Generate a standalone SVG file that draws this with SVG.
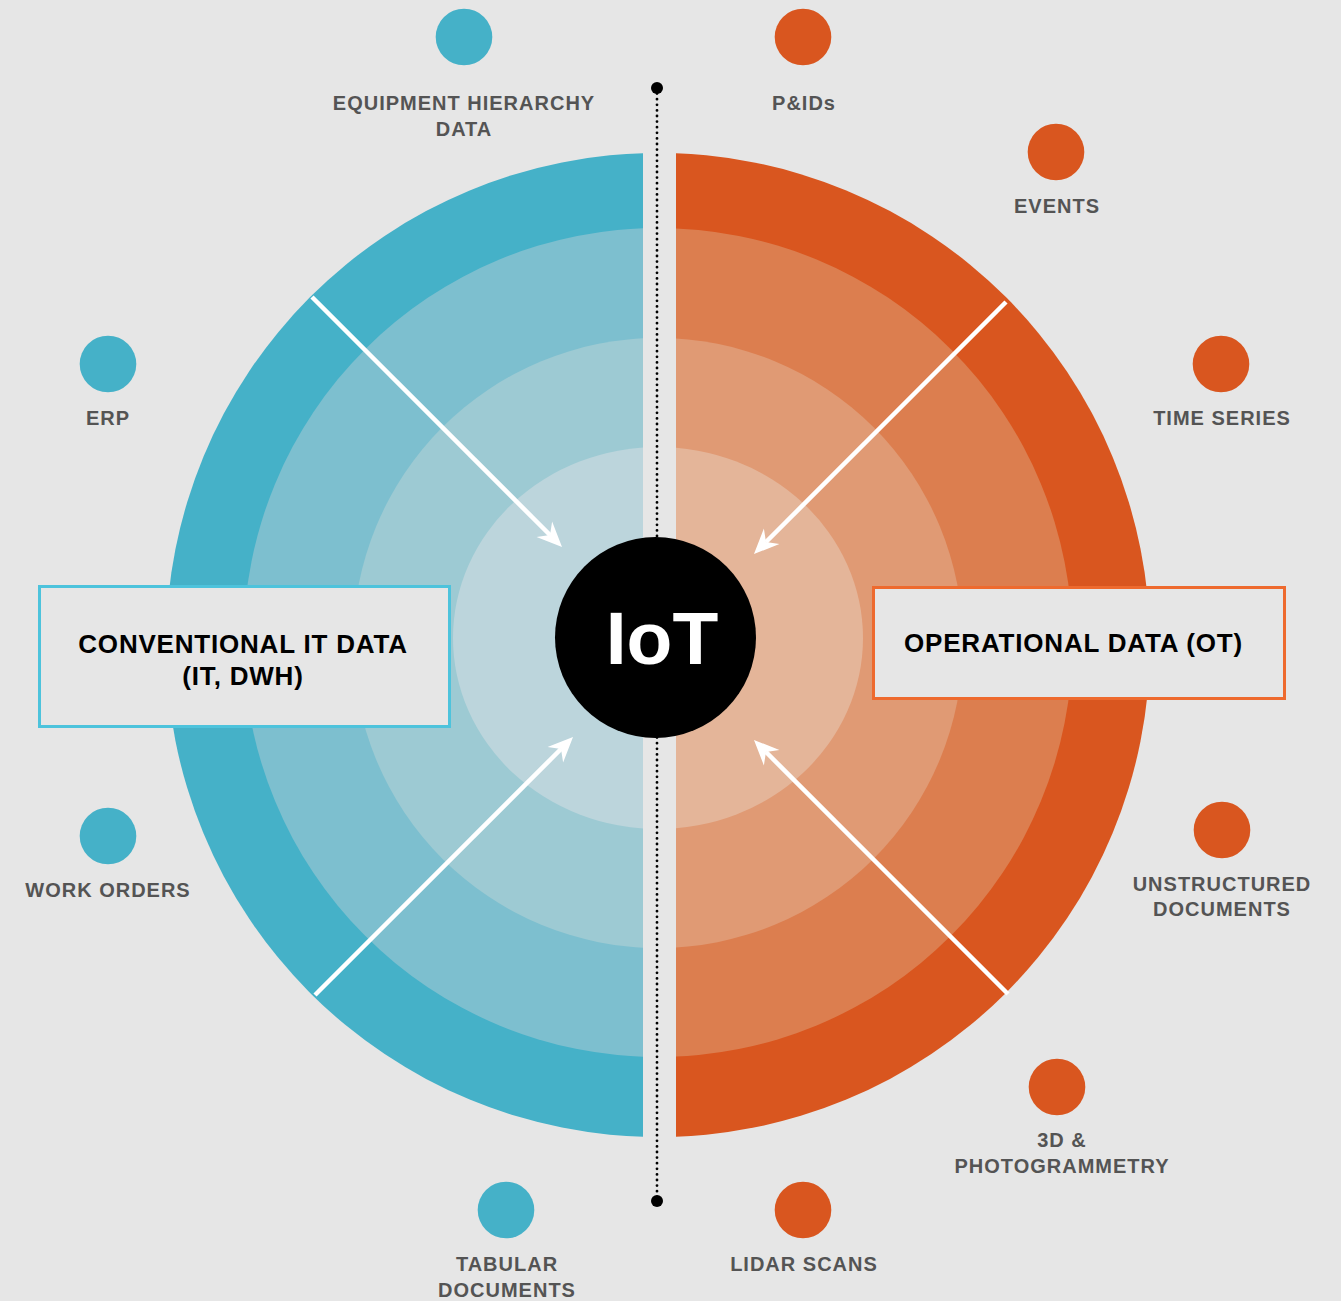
<svg xmlns="http://www.w3.org/2000/svg" width="1341" height="1301" viewBox="0 0 1341 1301">
<style>
.lbl{font-family:"Liberation Sans",Arial,sans-serif;font-weight:bold;font-size:20px;fill:#545454;text-anchor:middle;letter-spacing:1px}
.box{font-family:"Liberation Sans",Arial,sans-serif;font-weight:bold;font-size:26px;fill:#000;text-anchor:middle;letter-spacing:0.8px}
.it{fill:#45B1C8}
.ot{fill:#D9561F}
.arrow{stroke:#fff;stroke-width:4.5;fill:none;marker-end:url(#head)}
</style>
<defs>
<marker id="head" markerUnits="userSpaceOnUse" markerWidth="30" markerHeight="30" viewBox="0 0 30 30" refX="8" refY="15" orient="auto" overflow="visible">
<path d="M25,15 L0,4 L8,15 L0,26 Z" fill="#fff"/>
</marker>
<clipPath id="leftHalf"><rect x="0" y="0" width="643" height="1301"/></clipPath>
<clipPath id="rightHalf"><rect x="676" y="0" width="665" height="1301"/></clipPath>
</defs>
<rect width="1341" height="1301" fill="#E6E6E6"/>
<g id="rings">
<g clip-path="url(#leftHalf)">
<circle cx="658" cy="645" r="492" fill="#45B1C8"/>
<circle cx="658" cy="642.5" r="414.5" fill="#7DBFCF"/>
<circle cx="658" cy="643" r="305" fill="#9DCAD3"/>
<ellipse cx="658" cy="638" rx="205" ry="191" fill="#BCD5DC"/>
</g>
<g clip-path="url(#rightHalf)">
<circle cx="658" cy="645" r="492" fill="#D9561F"/>
<circle cx="658" cy="642.5" r="414.5" fill="#DC7E4F"/>
<circle cx="658" cy="643" r="305" fill="#E09A74"/>
<ellipse cx="658" cy="638" rx="205" ry="191" fill="#E4B599"/>
</g>
</g>
<g id="divider">
<line x1="657" y1="88" x2="657" y2="1201" stroke="#000" stroke-width="2.8" stroke-dasharray="0 5.6" stroke-linecap="round"/>
<circle cx="657" cy="88" r="6" fill="#000"/>
<circle cx="657" cy="1201" r="6" fill="#000"/>
</g>
<g id="connectors">
<line class="arrow" x1="312" y1="297" x2="550" y2="535"/>
<line class="arrow" x1="1006" y1="302" x2="766" y2="542"/>
<line class="arrow" x1="315" y1="995" x2="561" y2="749"/>
<line class="arrow" x1="1008" y1="994" x2="766" y2="752"/>
</g>
<g id="iot">
<circle cx="655.5" cy="637.5" r="100.5" fill="#000"/>
<text x="662" y="664" font-family="Liberation Sans,Arial,sans-serif" font-weight="bold" font-size="75" fill="#fff" text-anchor="middle">IoT</text>
</g>
<g id="it-box">
<rect x="39.5" y="586.5" width="410" height="140" fill="#E6E6E6" stroke="#4DC3DC" stroke-width="3"/>
<text class="box" x="243" y="653">CONVENTIONAL IT DATA</text>
<text class="box" x="243" y="685">(IT, DWH)</text>
</g>
<g id="ot-box">
<rect x="873.5" y="587.5" width="411" height="111" fill="#E6E6E6" stroke="#EE6A2E" stroke-width="3"/>
<text class="box" x="1073.5" y="652">OPERATIONAL DATA (OT)</text>
</g>
<g id="node-equipment">
<circle class="it" cx="464" cy="37" r="28.3"/>
<text class="lbl" x="464" y="110">EQUIPMENT HIERARCHY</text>
<text class="lbl" x="464" y="136">DATA</text>
</g>
<g id="node-erp">
<circle class="it" cx="108" cy="364" r="28.3"/>
<text class="lbl" x="108" y="425">ERP</text>
</g>
<g id="node-workorders">
<circle class="it" cx="108" cy="836" r="28.3"/>
<text class="lbl" x="108" y="897">WORK ORDERS</text>
</g>
<g id="node-tabular">
<circle class="it" cx="506" cy="1210" r="28.3"/>
<text class="lbl" x="507" y="1271">TABULAR</text>
<text class="lbl" x="507" y="1297">DOCUMENTS</text>
</g>
<g id="node-pids">
<circle class="ot" cx="803" cy="37" r="28.3"/>
<text class="lbl" x="804" y="110">P&amp;IDs</text>
</g>
<g id="node-events">
<circle class="ot" cx="1056" cy="152" r="28.3"/>
<text class="lbl" x="1057" y="213">EVENTS</text>
</g>
<g id="node-timeseries">
<circle class="ot" cx="1221" cy="364" r="28.3"/>
<text class="lbl" x="1222" y="425">TIME SERIES</text>
</g>
<g id="node-unstructured">
<circle class="ot" cx="1222" cy="830" r="28.3"/>
<text class="lbl" x="1222" y="891">UNSTRUCTURED</text>
<text class="lbl" x="1222" y="916">DOCUMENTS</text>
</g>
<g id="node-3d">
<circle class="ot" cx="1057" cy="1087" r="28.3"/>
<text class="lbl" x="1062" y="1147">3D &amp;</text>
<text class="lbl" x="1062" y="1173">PHOTOGRAMMETRY</text>
</g>
<g id="node-lidar">
<circle class="ot" cx="803" cy="1210" r="28.3"/>
<text class="lbl" x="804" y="1271">LIDAR SCANS</text>
</g>
</svg>
